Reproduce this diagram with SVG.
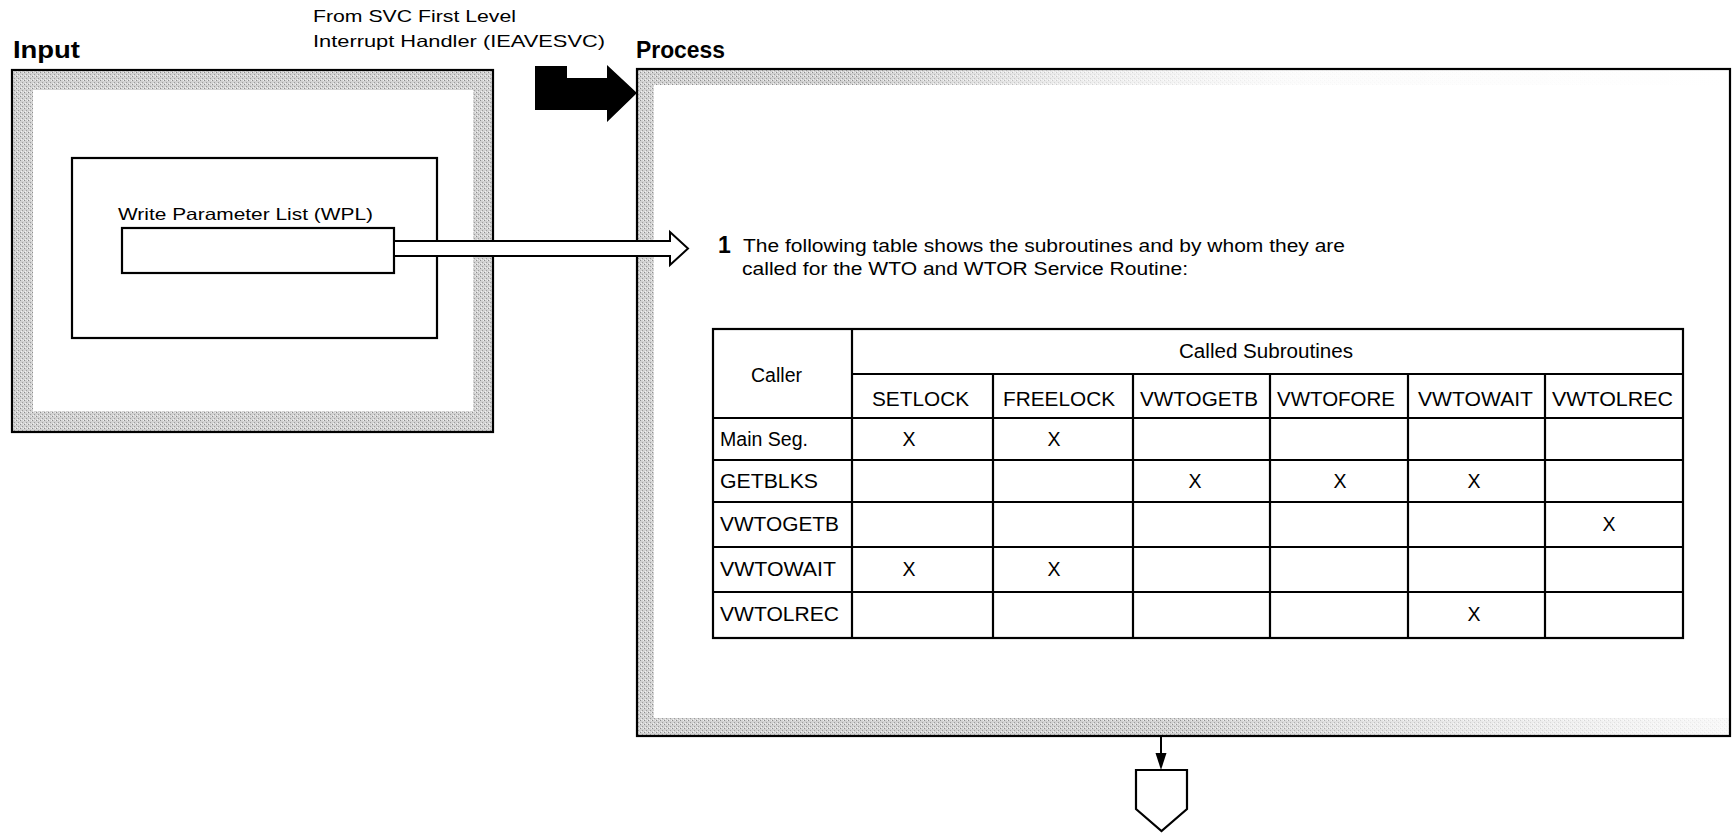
<svg xmlns="http://www.w3.org/2000/svg" width="1733" height="833" viewBox="0 0 1733 833">
<style>
.t{font-family:"Liberation Sans",Arial,sans-serif;fill:#000}
.h{font-family:"Liberation Sans",Arial,sans-serif;font-weight:bold;font-size:23px;fill:#000}
.s16{font-size:16.5px}
.s17{font-size:17.5px}
.tb{font-size:19.5px}
.box{fill:none;stroke:#000;stroke-width:2.2}
.cell{stroke:#000;stroke-width:2.2;fill:none}
</style>
<defs>
<pattern id="stip" width="4" height="4" patternUnits="userSpaceOnUse">
<rect width="4" height="4" fill="#d2d2d2"/>
<rect x="0" y="0" width="1" height="1" fill="#8c8c8c"/>
<rect x="2" y="2" width="1" height="1" fill="#9c9c9c"/>
<rect x="3" y="0" width="1" height="1" fill="#eeeeee"/>
<rect x="1" y="3" width="1" height="1" fill="#f2f2f2"/>
</pattern>
<linearGradient id="fadeTop" gradientUnits="userSpaceOnUse" x1="637" y1="0" x2="1730" y2="0">
<stop offset="0.2" stop-color="#fff" stop-opacity="0"/>
<stop offset="0.4" stop-color="#fff" stop-opacity="0.6"/>
<stop offset="0.6" stop-color="#fff" stop-opacity="0.92"/>
<stop offset="1" stop-color="#fff" stop-opacity="1"/>
</linearGradient>
<linearGradient id="fadeBot" gradientUnits="userSpaceOnUse" x1="637" y1="0" x2="1730" y2="0">
<stop offset="0.5" stop-color="#fff" stop-opacity="0"/>
<stop offset="0.75" stop-color="#fff" stop-opacity="0.5"/>
<stop offset="1" stop-color="#fff" stop-opacity="0.85"/>
</linearGradient>
</defs>
<rect width="1733" height="833" fill="#fff"/>

<text class="h" x="13" y="58" textLength="67" lengthAdjust="spacingAndGlyphs">Input</text>
<text class="h" x="636" y="58" textLength="89" lengthAdjust="spacingAndGlyphs">Process</text>
<text class="t s16" x="313" y="22" textLength="203" lengthAdjust="spacingAndGlyphs">From SVC First Level</text>
<text class="t s16" x="313" y="47" textLength="292" lengthAdjust="spacingAndGlyphs">Interrupt Handler (IEAVESVC)</text>

<g id="input-box">
<path d="M12,70 H493 V432 H12 Z M33,90 V411 H473 V90 Z" fill="url(#stip)" fill-rule="evenodd"/>
<rect class="box" x="12" y="70" width="481" height="362" stroke-width="2.5"/>
<rect class="box" x="72" y="158" width="365" height="180"/>
</g>

<g id="wpl">
<text class="t s16" x="118" y="220" textLength="255" lengthAdjust="spacingAndGlyphs">Write Parameter List (WPL)</text>
<rect class="box" x="122" y="228" width="272" height="45" fill="#fff"/>
</g>

<g id="process-box">
<path d="M637,69 H1730 V736 H637 Z M654,85 V718 H1730 V85 Z" fill="url(#stip)" fill-rule="evenodd"/>
<rect x="654" y="69" width="1076" height="16" fill="url(#fadeTop)"/>
<rect x="654" y="718" width="1076" height="18" fill="url(#fadeBot)"/>
<rect class="box" x="637" y="69" width="1093" height="667" stroke-width="2.5"/>
<text class="t" x="718" y="253" font-size="23" font-weight="bold">1</text>
<text class="t s17" x="743" y="252" textLength="602" lengthAdjust="spacingAndGlyphs">The following table shows the subroutines and by whom they are</text>
<text class="t s17" x="742" y="275" textLength="446" lengthAdjust="spacingAndGlyphs">called for the WTO and WTOR Service Routine:</text>
</g>

<g id="table">
<rect class="cell" x="713" y="329" width="970" height="309"/>
<line class="cell" x1="852" y1="329" x2="852" y2="638"/>
<line class="cell" x1="852" y1="374" x2="1683" y2="374"/>
<line class="cell" x1="713" y1="418" x2="1683" y2="418"/>
<line class="cell" x1="713" y1="460" x2="1683" y2="460"/>
<line class="cell" x1="713" y1="502" x2="1683" y2="502"/>
<line class="cell" x1="713" y1="547" x2="1683" y2="547"/>
<line class="cell" x1="713" y1="592" x2="1683" y2="592"/>
<line class="cell" x1="993" y1="374" x2="993" y2="638"/>
<line class="cell" x1="1133" y1="374" x2="1133" y2="638"/>
<line class="cell" x1="1270" y1="374" x2="1270" y2="638"/>
<line class="cell" x1="1408" y1="374" x2="1408" y2="638"/>
<line class="cell" x1="1545" y1="374" x2="1545" y2="638"/>
<text class="t tb" x="751" y="382" textLength="51" lengthAdjust="spacingAndGlyphs">Caller</text>
<text class="t tb" x="1179" y="358" textLength="174" lengthAdjust="spacingAndGlyphs">Called Subroutines</text>
<text class="t tb" x="872" y="406" textLength="97" lengthAdjust="spacingAndGlyphs">SETLOCK</text>
<text class="t tb" x="1003" y="406" textLength="112" lengthAdjust="spacingAndGlyphs">FREELOCK</text>
<text class="t tb" x="1140" y="406" textLength="118" lengthAdjust="spacingAndGlyphs">VWTOGETB</text>
<text class="t tb" x="1277" y="406" textLength="118" lengthAdjust="spacingAndGlyphs">VWTOFORE</text>
<text class="t tb" x="1418" y="406" textLength="115" lengthAdjust="spacingAndGlyphs">VWTOWAIT</text>
<text class="t tb" x="1552" y="406" textLength="121" lengthAdjust="spacingAndGlyphs">VWTOLREC</text>
<text class="t tb" x="720" y="446" textLength="88" lengthAdjust="spacingAndGlyphs">Main Seg.</text>
<text class="t tb" x="720" y="488" textLength="98" lengthAdjust="spacingAndGlyphs">GETBLKS</text>
<text class="t tb" x="720" y="531" textLength="119" lengthAdjust="spacingAndGlyphs">VWTOGETB</text>
<text class="t tb" x="720" y="576" textLength="116" lengthAdjust="spacingAndGlyphs">VWTOWAIT</text>
<text class="t tb" x="720" y="621" textLength="119" lengthAdjust="spacingAndGlyphs">VWTOLREC</text>
<g class="t tb" text-anchor="middle">
<text x="909" y="446">X</text>
<text x="1054" y="446">X</text>
<text x="1195" y="488">X</text>
<text x="1340" y="488">X</text>
<text x="1474" y="488">X</text>
<text x="1609" y="531">X</text>
<text x="909" y="576">X</text>
<text x="1054" y="576">X</text>
<text x="1474" y="621">X</text>
</g>
</g>

<g id="offpage-connector">
<path d="M1136,770 H1187 V809 L1161.5,831 L1136,809 Z" fill="#fff" stroke="#000" stroke-width="2.2"/>
</g>

<g id="connectors">
<path d="M394,241 H670 V232 L688,248.5 L670,265 V256 H394 Z" fill="#fff" stroke="#000" stroke-width="2"/>
<polygon points="535,66 567,66 567,78 607,78 607,65 637,93 607,122 607,110 535,110" fill="#000"/>
<line x1="1161" y1="736" x2="1161" y2="756" stroke="#000" stroke-width="2"/>
<polygon points="1155.5,753 1166.5,753 1161,770" fill="#000"/>
</g>
</svg>
